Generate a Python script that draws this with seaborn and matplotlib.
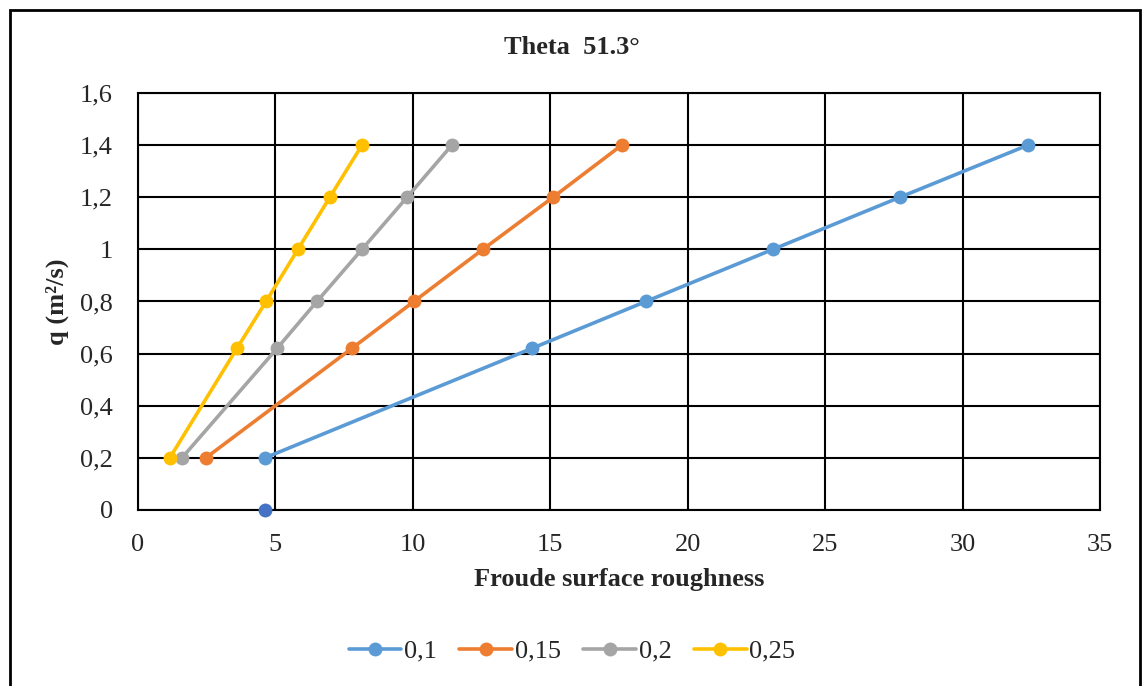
import pandas as pd
import matplotlib.pyplot as plt
import seaborn as sns
from matplotlib.patches import Rectangle
from matplotlib.ticker import FuncFormatter

# values
q = [0.2, 0.62, 0.8, 1.0, 1.2, 1.4]
fr_010 = [4.62, 14.33, 18.48, 23.1, 27.72, 32.38]
fr_015 = [2.47, 7.78, 10.04, 12.55, 15.1, 17.6]
fr_020 = [1.6, 5.06, 6.51, 8.15, 9.79, 11.42]
fr_025 = [1.16, 3.6, 4.66, 5.82, 6.98, 8.15]
series_names = ['0,1', '0,15', '0,2', '0,25']
colors = ['#5B9BD5', '#ED7D31', '#A5A5A5', '#FFC000']
extra_x = [4.62]
extra_y = [0.0]

df = pd.concat([
    pd.DataFrame({'fr': xs, 'q': q, 'series': name})
    for xs, name in zip([fr_010, fr_015, fr_020, fr_025], series_names)
])

sns.set_style('white')
plt.rcParams['font.family'] = ['Liberation Serif', 'DejaVu Serif']

fig = plt.figure(figsize=(11.44, 6.86), dpi=100)
ax = fig.add_axes([0.1206, 0.2566, 0.8409, 0.6078])

sns.lineplot(data=df, x='fr', y='q', hue='series', palette=colors,
             hue_order=series_names, marker='o', markersize=10,
             markeredgewidth=0, linewidth=2.6, sort=False, ax=ax, legend=False)
ax.plot(extra_x, extra_y, 'o', color='#4472C4', markersize=10, markeredgewidth=0,
        zorder=5, clip_on=False)

ax.set_xlim(0, 35)
ax.set_ylim(0, 1.6)
ax.set_xticks(range(0, 36, 5))
ax.set_yticks([i * 0.2 for i in range(9)])
fmt = FuncFormatter(lambda v, p: ('%g' % round(v, 2)).replace('.', ','))
ax.yaxis.set_major_formatter(fmt)
ax.grid(True, color='black', linewidth=1.5)
ax.set_axisbelow(True)
for s in ax.spines.values():
    s.set_color('black')
    s.set_linewidth(1.5)
ax.tick_params(axis='both', labelsize=19, length=0)
ax.tick_params(axis='x', pad=17)
ax.tick_params(axis='y', pad=18)

ax.set_xlabel('Froude surface roughness', fontsize=19, fontweight='bold', labelpad=9)
ax.set_ylabel('q (m²/s)', fontsize=19, fontweight='bold', labelpad=8)
fig.text(0.5, 0.931, 'Theta  51.3°', ha='center', va='center',
         fontsize=19, fontweight='bold')

handles = [plt.Line2D([], [], color=c, marker='o', markersize=10, markeredgewidth=0,
                      linewidth=2.6) for c in colors]
fig.legend(handles, series_names, loc='center', bbox_to_anchor=(0.5, 0.051), ncol=4,
           frameon=False, fontsize=19, handlelength=2.0, handletextpad=0.1,
           columnspacing=0.85)

fig.patches.append(Rectangle((10 / 1144, -0.05), 1130 / 1144, 1.05 - 10 / 686,
                             transform=fig.transFigure, fill=False,
                             edgecolor='black', linewidth=2))

fig.savefig('out.png', dpi=100)
